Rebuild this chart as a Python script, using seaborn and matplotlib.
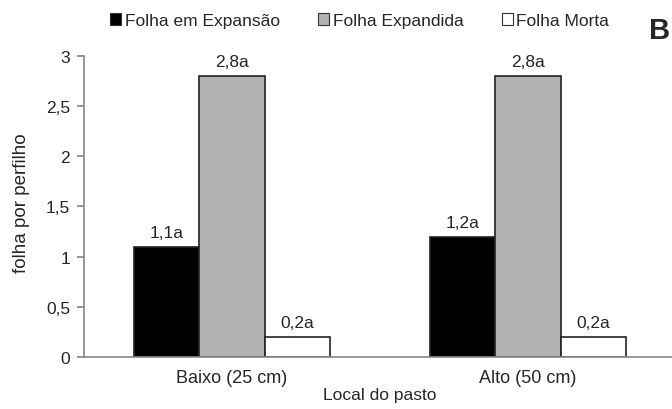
import matplotlib
matplotlib.use("Agg")
import matplotlib.pyplot as plt
from matplotlib.patches import Patch
import pandas as pd
import seaborn as sns

locais = ["Baixo (25 cm)", "Alto (50 cm)"]
tipos = ["Folha em Expansão", "Folha Expandida", "Folha Morta"]
expansao = [1.1, 1.2]
expandida = [2.8, 2.8]
morta = [0.2, 0.2]
letras = [["a", "a"], ["a", "a"], ["a", "a"]]
cores = ["#000000", "#b2b2b2", "#ffffff"]
yticks = [0, 0.5, 1, 1.5, 2, 2.5, 3]

sns.set_theme(style="white")
plt.rcParams["font.family"] = ["Liberation Sans", "DejaVu Sans"]
fs = 12.5

df = pd.DataFrame({
    "local": locais * 3,
    "tipo": [t for t in tipos for _ in locais],
    "valor": expansao + expandida + morta,
})

fig = plt.figure(figsize=(6.72, 4.10), dpi=100)
ax = fig.add_axes([0.125, 0.127, 0.881, 0.734])

sns.barplot(data=df, x="local", y="valor", hue="tipo", hue_order=tipos,
            palette=cores, width=0.66, gap=0, edgecolor="#222222",
            linewidth=1.2, saturation=1, legend=False, ax=ax)

# value labels
for i, cont in enumerate(ax.containers):
    labels = [f"{b.get_height():.1f}".replace(".", ",") + letras[i][j]
              for j, b in enumerate(cont)]
    ax.bar_label(cont, labels=labels, padding=5, fontsize=fs)

ax.set_xlim(-0.5, 1.5)
ax.set_ylim(0, 3)
ax.set_yticks(yticks)
ax.set_yticklabels([f"{v:g}".replace(".", ",") for v in yticks], fontsize=fs)
ax.tick_params(axis="x", which="major", length=0, labelsize=13, pad=9)
ax.set_xticks([-0.5, 0.5, 1.5], minor=True)
ax.tick_params(axis="x", which="minor", length=5, color="#888888", direction="out")
ax.tick_params(axis="y", length=5, color="#888888", direction="out", left=True, pad=5)
ax.set_xlabel("Local do pasto", fontsize=12.5)
ax.xaxis.set_label_coords(0.5, -0.10)
ax.set_ylabel("folha por perfilho", fontsize=13.5)
ax.yaxis.set_label_coords(-0.091, 0.515)

sns.despine(ax=ax)
for s in ["left", "bottom"]:
    ax.spines[s].set_color("#888888")
    ax.spines[s].set_linewidth(1.2)

handles = [Patch(facecolor=c, edgecolor="#333333", linewidth=0.8) for c in cores]
fig.legend(handles, tipos, loc="center", bbox_to_anchor=(0.535, 0.948), ncol=3,
           frameon=False, fontsize=fs, handlelength=0.65, handleheight=0.65,
           handletextpad=0.2, columnspacing=2.2)

fig.text(0.966, 0.925, "B", fontsize=21, fontweight="bold", ha="left", va="center")

fig.savefig("out.png", dpi=100)
